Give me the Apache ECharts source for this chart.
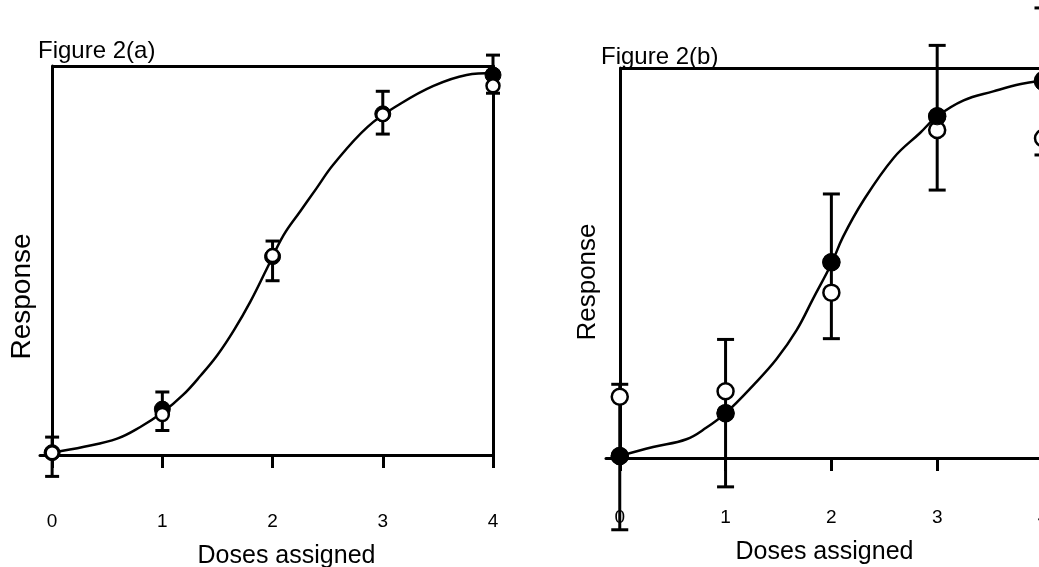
<!DOCTYPE html>
<html>
<head>
<meta charset="utf-8">
<script src="https://cdn.jsdelivr.net/npm/echarts@6/dist/echarts.min.js"></script>
<style>
  html, body { margin: 0; background: #fff; }
  #chart { width: 1039px; height: 567px; }
</style>
</head>
<body>
<div id="chart"></div>
<script>
// 剂量刻度
const doses = [0, 1, 2, 3, 4];
const tickLabels = ['0', '1', '2', '3', '4'];

// Figure 2(a) 拟合曲线
const curveDoseA = [0, 0.29, 0.59, 0.8, 1, 1.19, 1.35, 1.5, 1.65, 1.8, 1.95, 2.1, 2.25, 2.4, 2.55, 2.86, 3.16, 3.46, 3.76, 4];
const curveRespA = [0.006, 0.021, 0.042, 0.072, 0.109, 0.155, 0.205, 0.257, 0.321, 0.395, 0.48, 0.565, 0.626, 0.686, 0.746, 0.843, 0.903, 0.949, 0.977, 0.982];
// Figure 2(a) 观测点
const filledA = [0.006, 0.118, 0.51, 0.877, 0.977];
const openA = [0.006, 0.104, 0.513, 0.875, 0.949];
const errLowA = [-0.055, 0.063, 0.448, 0.825, 0.93];
const errHighA = [0.046, 0.162, 0.55, 0.935, 1.028];

// Figure 2(b) 拟合曲线
const curveDoseB = [0, 0.315, 0.63, 0.82, 1, 1.27, 1.48, 1.67, 1.83, 2, 2.11, 2.3, 2.59, 2.84, 3, 3.25, 3.53, 3.79, 4];
const curveRespB = [0.005, 0.028, 0.048, 0.078, 0.115, 0.189, 0.253, 0.327, 0.41, 0.498, 0.567, 0.659, 0.77, 0.834, 0.876, 0.917, 0.94, 0.959, 0.968];
// Figure 2(b) 观测点
const filledB = [0.005, 0.115, 0.502, 0.876, 0.964];
const openB = [0.157, 0.171, 0.502, 0.876, 0.968];
const openB2 = [0.005, 0.115, 0.424, 0.841, 0.82];
const errLowB = [-0.184, -0.074, 0.306, 0.687, 0.777];
const errHighB = [0.189, 0.304, 0.677, 1.058, 1.154];

const FONT = 'Liberation Sans, Arial, sans-serif';
const pairs = (xs, ys) => xs.map((x, i) => [x, ys[i]]);

function errorBars(idx, low, high, capW) {
    return {
        type: 'custom',
        xAxisIndex: idx,
        yAxisIndex: idx * 2,
        clip: false,
        z: 3,
        data: doses.map((d, i) => [d, low[i], high[i]]),
        renderItem: function (params, api) {
            const lo = api.coord([api.value(0), api.value(1)]);
            const hi = api.coord([api.value(0), api.value(2)]);
            const style = { stroke: '#000', lineWidth: 3 };
            return {
                type: 'group',
                children: [
                    { type: 'line', shape: { x1: lo[0], y1: lo[1], x2: hi[0], y2: hi[1] }, style: style },
                    { type: 'line', shape: { x1: lo[0] - capW / 2, y1: lo[1], x2: lo[0] + capW / 2, y2: lo[1] }, style: style },
                    { type: 'line', shape: { x1: hi[0] - capW / 2, y1: hi[1], x2: hi[0] + capW / 2, y2: hi[1] }, style: style }
                ]
            };
        }
    };
}

function curve(idx, xs, ys) {
    return {
        type: 'line',
        xAxisIndex: idx,
        yAxisIndex: idx * 2,
        data: pairs(xs, ys),
        smooth: 0.4,
        showSymbol: false,
        z: 2,
        lineStyle: { color: '#000', width: 2.5 },
        // 图框上边
        markLine: {
            silent: true,
            symbol: ['none', 'none'],
            label: { show: false },
            lineStyle: { color: '#000', width: 3, type: 'solid' },
            data: [[{ coord: [0, 1] }, { coord: [4, 1] }]]
        }
    };
}

function dots(idx, ys, filled, size, z) {
    return {
        type: 'scatter',
        xAxisIndex: idx,
        yAxisIndex: idx * 2,
        data: pairs(doses, ys),
        symbol: 'circle',
        symbolSize: size,
        z: z,
        clip: false,
        itemStyle: filled
            ? { color: '#000', borderColor: '#000', borderWidth: 1, opacity: 1 }
            : { color: '#fff', borderColor: '#000', borderWidth: 2.5, opacity: 1 }
    };
}

function xAxisOf(idx, min, labelMargin, nameGap, namePad) {
    return {
        gridIndex: idx,
        type: 'value',
        min: min,
        max: 4,
        name: 'Doses assigned',
        nameLocation: 'middle',
        nameGap: nameGap,
        nameTextStyle: { fontFamily: FONT, fontSize: 25, color: '#000', padding: [0, 0, 0, namePad] },
        axisLine: { show: true, onZero: false, lineStyle: { color: '#000', width: 3 } },
        axisTick: { show: true, customValues: doses, length: 13, lineStyle: { color: '#000', width: 3 } },
        axisLabel: {
            customValues: doses,
            margin: labelMargin,
            fontFamily: FONT,
            fontSize: 19,
            color: '#000',
            formatter: v => tickLabels[doses.indexOf(v)]
        },
        splitLine: { show: false }
    };
}

function yAxesOf(idx, nameSize, nameGap, nameShift) {
    return [{
        gridIndex: idx,
        type: 'value',
        min: 0,
        max: 1,
        name: 'Response',
        nameLocation: 'middle',
        nameGap: nameGap,
        nameTextStyle: { fontFamily: FONT, fontSize: nameSize, color: '#000', padding: [0, nameShift, 0, 0] },
        axisLine: { show: true, onZero: true, lineStyle: { color: '#000', width: 3 } },
        axisTick: { show: false },
        axisLabel: { show: false },
        splitLine: { show: false }
    }, {
        gridIndex: idx,
        type: 'value',
        position: 'right',
        min: 0,
        max: 1,
        axisLine: { show: true, onZero: false, lineStyle: { color: '#000', width: 3 } },
        axisTick: { show: false },
        axisLabel: { show: false },
        splitLine: { show: false }
    }];
}

const myChart = echarts.init(document.getElementById('chart'));

myChart.setOption({
    animation: false,
    backgroundColor: '#fff',
    title: [
        { text: 'Figure 2(a)', left: 33, top: 34, textStyle: { fontFamily: FONT, fontSize: 24, fontWeight: 'normal', color: '#000' } },
        { text: 'Figure 2(b)', left: 596, top: 40, textStyle: { fontFamily: FONT, fontSize: 24, fontWeight: 'normal', color: '#000' } }
    ],
    grid: [
        { left: 40, top: 66, width: 453, height: 389, outerBoundsMode: 'none', containLabel: false },
        { left: 606, top: 68, width: 437, height: 390, outerBoundsMode: 'none', containLabel: false }
    ],
    xAxis: [
        xAxisOf(0, -0.11, 57, 89, 40),
        xAxisOf(1, -0.13, 50, 82, 0)
    ],
    yAxis: [].concat(yAxesOf(0, 28, 4, 72), yAxesOf(1, 26, 5, 38)),
    series: [
        curve(0, curveDoseA, curveRespA),
        errorBars(0, errLowA, errHighA, 14),
        dots(0, filledA, true, 16, 4),
        dots(0, openA, false, 13, 5),

        curve(1, curveDoseB, curveRespB),
        errorBars(1, errLowB, errHighB, 17),
        dots(1, openB, false, 16, 4),
        dots(1, openB2, false, 16, 4),
        dots(1, filledB, true, 17, 5)
    ]
});
</script>
</body>
</html>
